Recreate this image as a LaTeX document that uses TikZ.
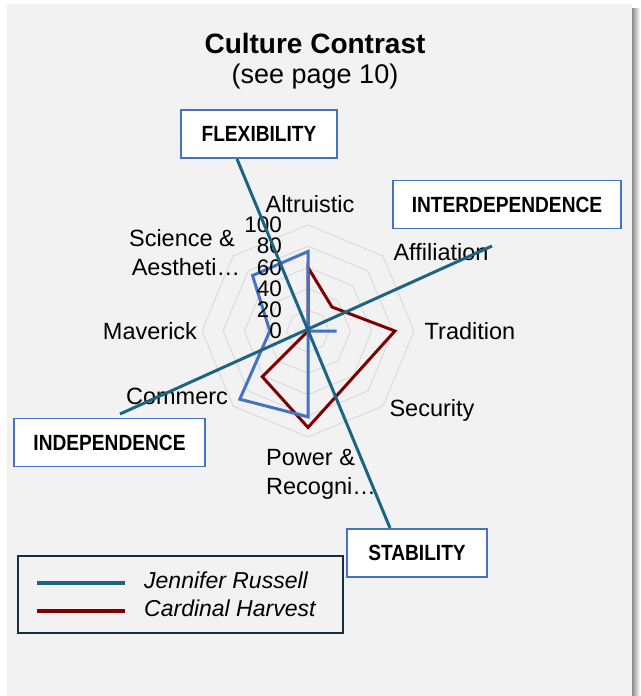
\documentclass[tikz,border=0pt]{standalone}
\usepackage{fontspec}
\setmainfont{Liberation Sans}
\newfontfamily\boxfont[FakeStretch=0.87]{Liberation Sans}
\usetikzlibrary{positioning}
\definecolor{panelgray}{HTML}{F2F2F2}
\definecolor{ringgray}{HTML}{D9D9D9}
\definecolor{axisteal}{HTML}{1D6483}
\definecolor{seriesblue}{HTML}{4472C4}
\definecolor{seriesred}{HTML}{7F0000}
\definecolor{legendnavy}{HTML}{14303F}

\begin{document}
\begin{tikzpicture}[x=1pt,y=-1pt,
    ring/.style={draw=ringgray,line width=0.9pt},
    axisline/.style={draw=axisteal,line width=3pt},
    bluepoly/.style={draw=seriesblue,line width=3pt,line join=miter},
    redpoly/.style={draw=seriesred,line width=3pt,line join=miter},
    catlabel/.style={font=\fontsize{23.5}{29}\selectfont,align=center,inner sep=0pt},
    ticklabel/.style={font=\fontsize{22.5}{22.5}\selectfont,anchor=east,inner sep=0pt},
    polebox/.style={draw=seriesblue,line width=1.5pt,fill=white,minimum height=48pt,
      font=\boxfont\bfseries\fontsize{22}{22}\selectfont}]
    \useasboundingbox (0,0) rectangle (640,696);
    % Draw the panel and its shadow
    \shade[left color=black!45,right color=white] (632,8) rectangle (640,696);
    \fill[panelgray] (7,4) rectangle (632,696);
    % Title
    \node[font=\bfseries\fontsize{28}{28}\selectfont] (title) at (315,43) {Culture Contrast};
    \node[font=\fontsize{27}{27}\selectfont] (subtitle) at (315,77) {(see page 10)};
    \coordinate (c) at (308,331);
    % Draw the radar grid and the two series
    \begin{scope}[shift={(c)},yscale=-1,scale=1.06]
        \foreach \r in {20,40,...,100}{
            \foreach \a in {0,45,...,315}{
                \draw[ring] (\a:\r) -- (\a+45:\r);
            }
        }
        \draw[redpoly] (90:60) -- (45:32) -- (0:82) -- (-45:61) -- (-90:91)
            -- (-135:61) -- (180:0) -- (135:0) -- cycle;
        \draw[bluepoly] (90:75) -- (45:0) -- (0:27) -- (-45:0) -- (-90:81)
            -- (-135:91) -- (180:36) -- (135:74) -- cycle;
    \end{scope}
    % Scale numbers
    \foreach \v in {0,20,...,100}{
        \node[ticklabel] (tick\v) at (282,{331-1.06*\v}) {\v};
    }
    % Category names
    \node[catlabel] (altruistic) at (310,204) {Altruistic};
    \node[catlabel] (affiliation) at (441,252) {Affiliation};
    \node[catlabel] (tradition) at (470,331) {Tradition};
    \node[catlabel] (security) at (432,410) {Security};
    \node[catlabel,align=left,anchor=west] (power) at (266,474) {Power \&\\Recogni\dots};
    \node[catlabel] (commerce) at (177,396) {Commerc};
    \node[catlabel] (maverick) at (150,331) {Maverick};
    \node[catlabel] (science) at (182,253) {Science \&\\\hspace*{8pt}Aestheti\dots};
    % Draw the two culture axes with their pole boxes
    \coordinate (flexend) at (237,159);
    \coordinate (stabend) at (390,528);
    \coordinate (independ) at (120,414);
    \coordinate (interend) at (492,246);
    \draw[axisline] (flexend) -- (stabend);
    \draw[axisline] (independ) -- (interend);
    \node[polebox,minimum width=156pt] (flex) at (259,134) {FLEXIBILITY};
    \node[polebox,minimum width=228pt] (inter) at (507,204.5) {INTERDEPENDENCE};
    \node[polebox,minimum width=191pt] (indep) at (109.5,442.5) {INDEPENDENCE};
    \node[polebox,minimum width=140pt] (stab) at (417,553) {STABILITY};
    % Legend
    \draw[legendnavy,line width=2pt] (18,556) rectangle (343,633);
    \coordinate (keyA) at (37,583);
    \coordinate (keyB) at (37,611);
    \draw[axisteal,line width=4pt] (keyA) -- ++(88,0) coordinate (keyAend);
    \draw[seriesred,line width=4pt] (keyB) -- ++(88,0) coordinate (keyBend);
    \node[anchor=west,inner sep=0pt,font=\itshape\fontsize{23}{23}\selectfont]
        (jennifer) at (144,580) {Jennifer Russell};
    \node[anchor=west,inner sep=0pt,font=\itshape\fontsize{23}{23}\selectfont]
        (cardinal) at (144,608) {Cardinal Harvest};
\end{tikzpicture}
\end{document}
